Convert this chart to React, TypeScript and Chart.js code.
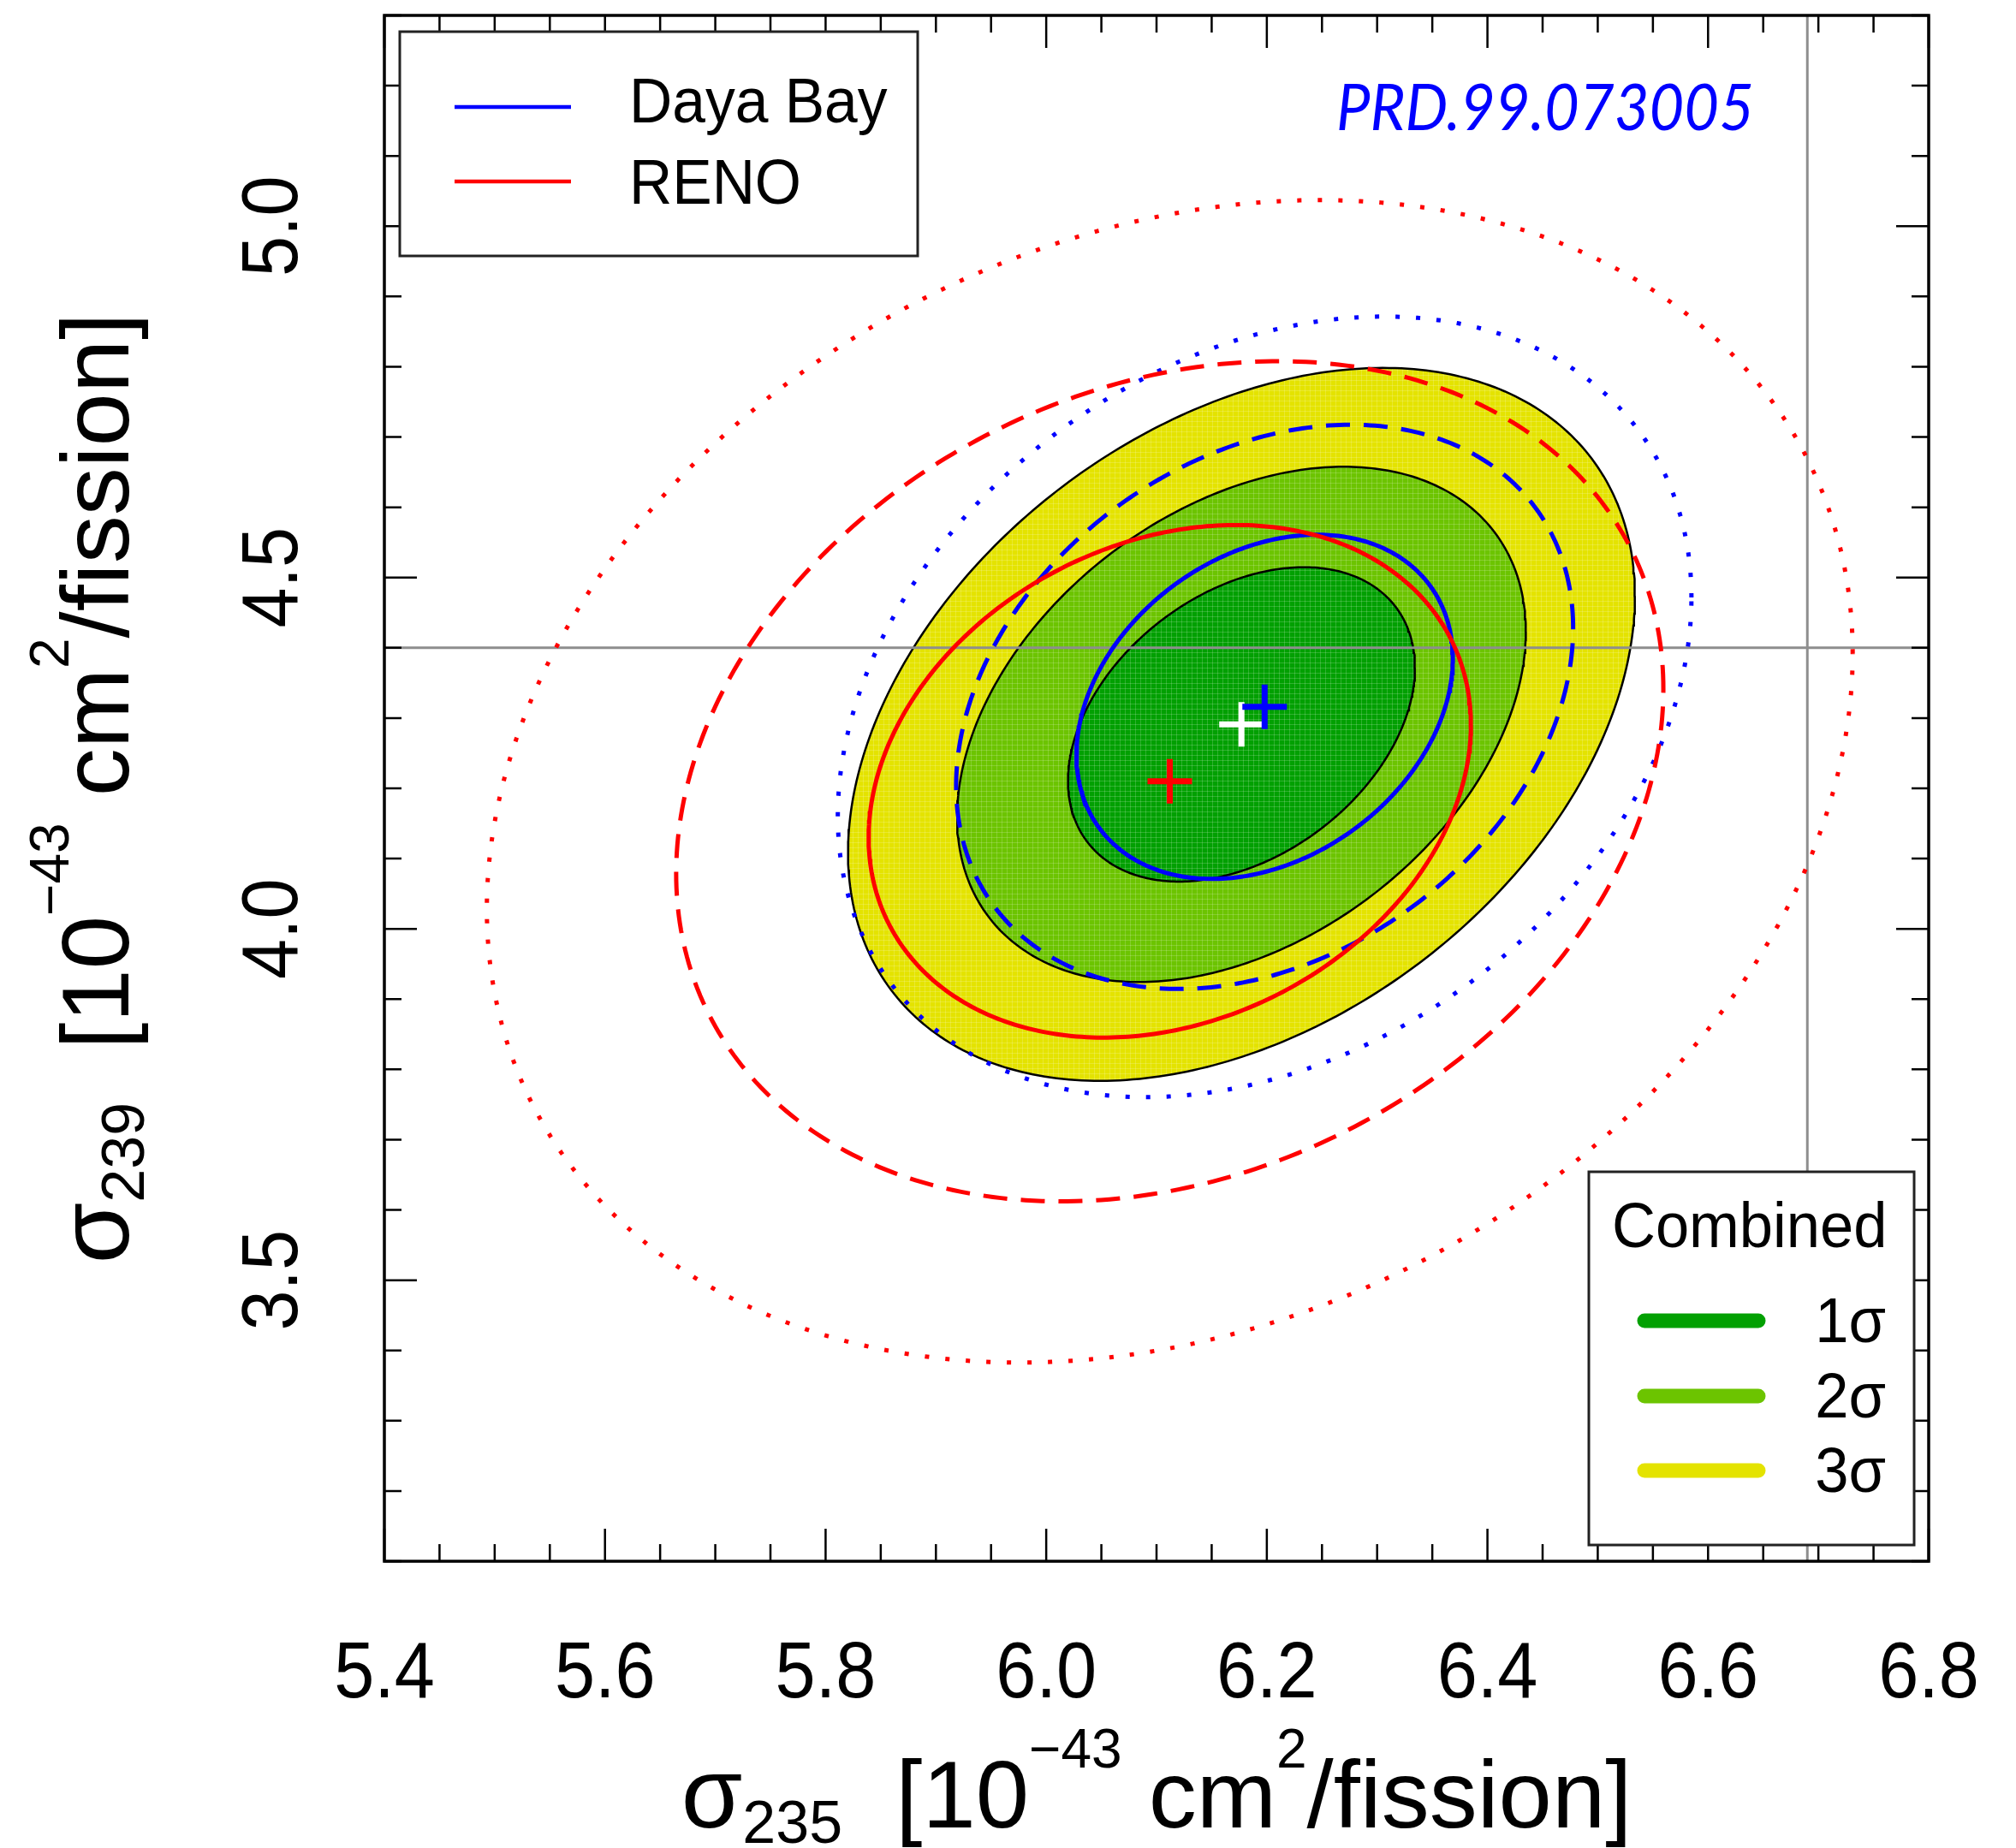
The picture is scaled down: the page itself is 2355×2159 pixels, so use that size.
import React, { useEffect, useRef } from 'react';
import { Chart, registerables } from 'chart.js';

Chart.register(...registerables);

const CANVAS_W = 2355;
const CANVAS_H = 2159;

// ---- axes ----
const xRange = [5.4, 6.8];
const yRange = [3.1, 5.3];
const xMajorTicks = [5.4, 5.6, 5.8, 6.0, 6.2, 6.4, 6.6, 6.8];
const xTickLabels = ['5.4', '5.6', '5.8', '6.0', '6.2', '6.4', '6.6', '6.8'];
const yMajorTicks = [3.5, 4.0, 4.5, 5.0];
const yTickLabels = ['3.5', '4.0', '4.5', '5.0'];
const xMinorStep = 0.05;
const yMinorStep = 0.1;

// ---- fit results: [Daya Bay, RENO, Combined] ----
const experiments = ['Daya Bay', 'RENO', 'Combined'];
const bestFit235 = [6.198, 6.112, 6.177];
const bestFit239 = [4.316, 4.21, 4.291];
const sigma235 = [0.1125, 0.18, 0.1037];
const sigma239 = [0.1615, 0.2405, 0.1475];
const correlation = [0.28, 0.22, 0.36];

// ---- confidence levels (2 d.o.f.) ----
const levelLabels = ['1σ', '2σ', '3σ'];
const deltaChi2 = [2.3, 6.18, 11.83];

// ---- model prediction (reference lines) ----
const prediction235 = 6.69;
const prediction239 = 4.4;

const COMB_COLORS = ['#02a002', '#6cc400', '#e4e300'];
const DYB_COLOR = '#0000ff';
const RENO_COLOR = '#ff0000';

function contour(exp: number, level: number) {
  const pts: { x: number; y: number }[] = [];
  const n = 360;
  const r = Math.sqrt(deltaChi2[level]);
  const c = correlation[exp];
  for (let j = 0; j <= n; j++) {
    const t = (2 * Math.PI * j) / n;
    pts.push({
      x: bestFit235[exp] + r * sigma235[exp] * Math.cos(t),
      y: bestFit239[exp] + r * sigma239[exp] * (c * Math.cos(t) + Math.sqrt(1 - c * c) * Math.sin(t)),
    });
  }
  return pts;
}

const patternCache: Record<string, CanvasPattern | string> = {};
function getPattern(ctx: CanvasRenderingContext2D, color: string) {
  if (patternCache[color]) return patternCache[color];
  const c = document.createElement('canvas');
  c.width = 6;
  c.height = 6;
  const p = c.getContext('2d');
  if (!p) return color;
  p.fillStyle = color;
  p.fillRect(0, 0, 6, 6);
  p.fillStyle = 'rgba(255,255,255,0.18)';
  p.fillRect(0, 0, 6, 1);
  p.fillRect(0, 0, 1, 6);
  const pat = ctx.createPattern(c, 'repeat');
  patternCache[color] = pat || color;
  return patternCache[color];
}

const areaFillPlugin = {
  id: 'areaFill',
  beforeDatasetDraw(chart: any, args: any) {
    const ds = chart.data.datasets[args.index];
    if (!ds.areaColor) return;
    const pts = args.meta.data;
    const ctx = chart.ctx as CanvasRenderingContext2D;
    const a = chart.chartArea;
    ctx.save();
    ctx.beginPath();
    ctx.rect(a.left, a.top, a.right - a.left, a.bottom - a.top);
    ctx.clip();
    ctx.beginPath();
    pts.forEach((p: any, i: number) => (i ? ctx.lineTo(p.x, p.y) : ctx.moveTo(p.x, p.y)));
    ctx.closePath();
    ctx.fillStyle = getPattern(ctx, ds.areaColor) as any;
    ctx.fill();
    ctx.restore();
  },
};

const SANS = '"Liberation Sans", Arial, Helvetica, sans-serif';

function drawText(
  ctx: CanvasRenderingContext2D,
  text: string,
  x: number,
  y: number,
  o: { size: number; align?: CanvasTextAlign; rotate?: number; squeeze?: number; color?: string; family?: string; style?: string }
) {
  ctx.save();
  ctx.translate(x, y);
  if (o.rotate) ctx.rotate(o.rotate);
  ctx.scale(o.squeeze ?? 1, 1);
  ctx.font = `${o.style ?? ''} ${o.size}px ${o.family ?? SANS}`;
  ctx.fillStyle = o.color ?? '#000';
  ctx.textAlign = o.align ?? 'left';
  ctx.textBaseline = 'alphabetic';
  ctx.fillText(text, 0, 0);
  ctx.restore();
}

type Piece = { t: string; size: number; dy: number };
function drawRich(ctx: CanvasRenderingContext2D, pieces: Piece[], x: number, y: number, rotate: number, squeeze: number) {
  ctx.save();
  ctx.translate(x, y);
  if (rotate) ctx.rotate(rotate);
  const widths = pieces.map((p) => {
    ctx.font = `${p.size}px ${SANS}`;
    return ctx.measureText(p.t).width * squeeze;
  });
  const total = widths.reduce((a, b) => a + b, 0);
  let cx = -total / 2;
  pieces.forEach((p, i) => {
    ctx.save();
    ctx.translate(cx, p.dy);
    ctx.scale(squeeze, 1);
    ctx.font = `${p.size}px ${SANS}`;
    ctx.fillStyle = '#000';
    ctx.textAlign = 'left';
    ctx.textBaseline = 'alphabetic';
    ctx.fillText(p.t, 0, 0);
    ctx.restore();
    cx += widths[i];
  });
  ctx.restore();
}

function axisTitle(sub: string): Piece[] {
  return [
    { t: 'σ', size: 116, dy: 0 },
    { t: sub, size: 70, dy: 18 },
    { t: '  [10', size: 112, dy: 0 },
    { t: '−43', size: 64, dy: -70 },
    { t: ' cm', size: 112, dy: 0 },
    { t: '2', size: 64, dy: -70 },
    { t: '/fission]', size: 112, dy: 0 },
  ];
}

const decorPlugin = {
  id: 'decor',
  afterDraw(chart: any) {
    const ctx = chart.ctx as CanvasRenderingContext2D;
    const xs = chart.scales.x;
    const ys = chart.scales.y;
    const { left, right, top, bottom } = chart.chartArea;

    // ticks
    ctx.save();
    ctx.strokeStyle = '#000';
    ctx.lineWidth = 2.5;
    const nx = Math.round((xRange[1] - xRange[0]) / xMinorStep);
    for (let i = 0; i <= nx; i++) {
      const v = xRange[0] + i * xMinorStep;
      const major = xMajorTicks.some((m) => Math.abs(m - v) < 1e-6);
      const len = major ? 38 : 20;
      const px = xs.getPixelForValue(v);
      ctx.beginPath();
      ctx.moveTo(px, bottom);
      ctx.lineTo(px, bottom - len);
      ctx.moveTo(px, top);
      ctx.lineTo(px, top + len);
      ctx.stroke();
    }
    const ny = Math.round((yRange[1] - yRange[0]) / yMinorStep);
    for (let i = 0; i <= ny; i++) {
      const v = yRange[0] + i * yMinorStep;
      const major = yMajorTicks.some((m) => Math.abs(m - v) < 1e-6);
      const len = major ? 38 : 20;
      const py = ys.getPixelForValue(v);
      ctx.beginPath();
      ctx.moveTo(left, py);
      ctx.lineTo(left + len, py);
      ctx.moveTo(right, py);
      ctx.lineTo(right - len, py);
      ctx.stroke();
    }
    // frame
    ctx.lineWidth = 3.5;
    ctx.strokeRect(left, top, right - left, bottom - top);
    ctx.restore();

    // tick labels
    xMajorTicks.forEach((v, i) => {
      drawText(ctx, xTickLabels[i], xs.getPixelForValue(v), 1983, { size: 92, align: 'center', squeeze: 0.92 });
    });
    yMajorTicks.forEach((v, i) => {
      drawText(ctx, yTickLabels[i], 347, ys.getPixelForValue(v), { size: 92, align: 'center', rotate: -Math.PI / 2, squeeze: 0.92 });
    });

    // axis titles
    drawRich(ctx, axisTitle('235'), (left + right) / 2, 2135, 0, 1.0);
    drawRich(ctx, axisTitle('239'), 150, (top + bottom) / 2, -Math.PI / 2, 1.0);

    // experiments legend (top-left)
    ctx.save();
    ctx.fillStyle = '#fff';
    ctx.fillRect(467, 37, 605, 262);
    ctx.strokeStyle = '#222';
    ctx.lineWidth = 3;
    ctx.strokeRect(467, 37, 605, 262);
    ctx.lineWidth = 4.5;
    ctx.strokeStyle = DYB_COLOR;
    ctx.beginPath();
    ctx.moveTo(531, 125);
    ctx.lineTo(667, 125);
    ctx.stroke();
    ctx.strokeStyle = RENO_COLOR;
    ctx.beginPath();
    ctx.moveTo(531, 212);
    ctx.lineTo(667, 212);
    ctx.stroke();
    ctx.restore();
    drawText(ctx, experiments[0], 735, 143, { size: 74, squeeze: 0.94 });
    drawText(ctx, experiments[1], 735, 238, { size: 74, squeeze: 0.94 });

    // publication tag
    ctx.save();
    ctx.font = `italic 76px Lato, "Open Sans", sans-serif`;
    const tagText = 'PRD.99.073005';
    const w = ctx.measureText(tagText).width;
    ctx.restore();
    drawText(ctx, tagText, 1561, 152, {
      size: 76,
      style: 'italic',
      family: 'Lato, "Open Sans", sans-serif',
      color: '#0000ff',
      squeeze: 488 / w,
    });

    // combined legend (bottom-right)
    ctx.save();
    ctx.fillStyle = '#fff';
    ctx.fillRect(1856, 1369, 380, 436);
    ctx.strokeStyle = '#222';
    ctx.lineWidth = 3;
    ctx.strokeRect(1856, 1369, 380, 436);
    ctx.lineCap = 'round';
    ctx.lineWidth = 17;
    const rows = [1543, 1631, 1718];
    rows.forEach((yy, i) => {
      ctx.strokeStyle = COMB_COLORS[i];
      ctx.beginPath();
      ctx.moveTo(1921, yy);
      ctx.lineTo(2054, yy);
      ctx.stroke();
    });
    ctx.restore();
    drawText(ctx, experiments[2], 1883, 1457, { size: 75, squeeze: 0.94 });
    rows.forEach((yy, i) => {
      drawText(ctx, levelLabels[i], 2203, yy + 25, { size: 75, align: 'right', squeeze: 0.94 });
    });
  },
};

export default function App() {
  const ref = useRef<HTMLCanvasElement | null>(null);

  useEffect(() => {
    if (!ref.current) return;
    const datasets: any[] = [];

    // combined filled regions (3σ, 2σ, 1σ)
    [2, 1, 0].forEach((lvl) => {
      datasets.push({
        label: `Combined ${levelLabels[lvl]}`,
        data: contour(2, lvl),
        showLine: true,
        pointRadius: 0,
        borderColor: '#000',
        borderWidth: 2.5,
        fill: false,
        areaColor: COMB_COLORS[lvl],
        order: 100 - (2 - lvl),
      });
    });

    // reference lines
    datasets.push({
      label: 'prediction 239',
      data: [
        { x: xRange[0], y: prediction239 },
        { x: xRange[1], y: prediction239 },
      ],
      showLine: true,
      pointRadius: 0,
      borderColor: '#8e8e8e',
      borderWidth: 3,
      order: 90,
    });
    datasets.push({
      label: 'prediction 235',
      data: [
        { x: prediction235, y: yRange[0] },
        { x: prediction235, y: yRange[1] },
      ],
      showLine: true,
      pointRadius: 0,
      borderColor: '#8e8e8e',
      borderWidth: 3,
      order: 90,
    });

    const dashes = [[], [28, 16], [5, 19]];
    // Daya Bay
    [2, 1, 0].forEach((lvl) => {
      datasets.push({
        label: `${experiments[0]} ${levelLabels[lvl]}`,
        data: contour(0, lvl),
        showLine: true,
        pointRadius: 0,
        borderColor: DYB_COLOR,
        borderWidth: 5,
        borderDash: dashes[lvl],
        borderCapStyle: 'butt',
        order: 80 - (2 - lvl),
      });
    });
    // RENO
    [2, 1, 0].forEach((lvl) => {
      datasets.push({
        label: `${experiments[1]} ${levelLabels[lvl]}`,
        data: contour(1, lvl),
        showLine: true,
        pointRadius: 0,
        borderColor: RENO_COLOR,
        borderWidth: 5,
        borderDash: dashes[lvl],
        borderCapStyle: 'butt',
        order: 70 - (2 - lvl),
      });
    });

    // best-fit markers
    const markerColors = ['#ffffff', DYB_COLOR, RENO_COLOR];
    const markerExp = [2, 0, 1];
    markerExp.forEach((e, i) => {
      datasets.push({
        label: `${experiments[e]} best fit`,
        data: [{ x: bestFit235[e], y: bestFit239[e] }],
        showLine: false,
        pointStyle: 'cross',
        pointRadius: 26,
        borderColor: markerColors[i],
        backgroundColor: markerColors[i],
        borderWidth: 7,
        clip: false,
        order: 12 - i,
      });
    });

    const chart = new Chart(ref.current, {
      type: 'scatter',
      data: { datasets },
      options: {
        responsive: false,
        animation: false,
        events: [],
        layout: {
          autoPadding: false,
          padding: { left: 449, right: CANVAS_W - 2253, top: 18, bottom: CANVAS_H - 1824 },
        },
        scales: {
          x: { type: 'linear', min: xRange[0], max: xRange[1], display: false },
          y: { type: 'linear', min: yRange[0], max: yRange[1], display: false },
        },
        plugins: { legend: { display: false }, tooltip: { enabled: false } },
      } as any,
      plugins: [areaFillPlugin, decorPlugin],
    });
    return () => chart.destroy();
  }, []);

  return (
    <div style={{ position: 'absolute', left: 0, top: 0, width: CANVAS_W, height: CANVAS_H, background: '#fff' }}>
      <canvas ref={ref} width={CANVAS_W} height={CANVAS_H} style={{ display: 'block' }} />
    </div>
  );
}
